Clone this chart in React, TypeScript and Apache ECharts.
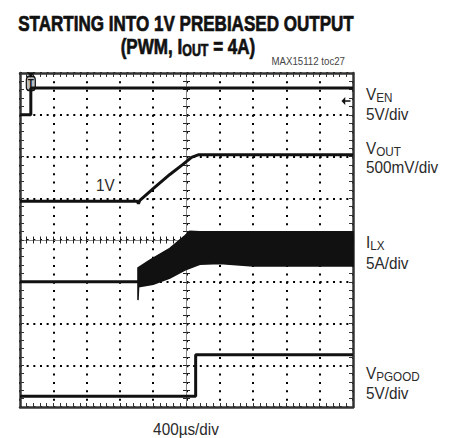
import React, { useEffect, useRef } from "react";
import * as echarts from "echarts";

// ---------- scope settings ----------
const TIME_PER_DIV = 400; // µs per horizontal division
const H_DIVS = 10;
const V_DIVS = 8;
const triggerTime = 130; // µs

// channel scale (units per division) and ground position (divisions from bottom)
const venScale = 5;
const venGround = 7.0;
const voutScale = 0.5;
const voutGround = 2.93;
const ilxScale = 5;
const ilxGround = 3.0;
const pgoodScale = 5;
const pgoodGround = 0.26;

// ---------- data ----------
// VEN (V)
const venTime = [0, 130, 130, 4000];
const venValue = [0, 0, 3.2, 3.2];

// VOUT (V)
const voutTime = [0, 1410, 1422, 1440, 1600, 1800, 1957, 2060, 2140, 4000];
const voutValue = [1.0, 1.0, 0.97, 1.01, 1.15, 1.32, 1.44, 1.525, 1.555, 1.555];

// ILX (A) before switching starts
const ilxIdleTime = [0, 1417];
const ilxIdleValue = [0, 0];
// ILX switching ripple envelope (A)
const ilxUpperTime = [1417, 1560, 1800, 1980, 2040, 2160, 2600, 3200, 4000];
const ilxUpper = [1.65, 2.6, 4.0, 5.5, 6.05, 6.0, 6.0, 6.0, 6.0];
const ilxLowerTime = [1417, 1425, 1600, 1800, 1980, 2160, 2400, 2800, 3400, 4000];
const ilxLower = [-2.2, -0.6, -0.3, 0.45, 1.4, 2.1, 2.2, 1.9, 1.9, 1.9];

// VPGOOD (V)
const pgoodTime = [0, 2110, 2110, 4000];
const pgoodValue = [0, 0, 4.95, 4.95];

// ---------- helpers ----------
const toPoints = (times: number[], vals: number[], ground: number, scale: number) =>
  times.map((t, i) => [t / TIME_PER_DIV, ground + vals[i] / scale]);

const FONT = '"Liberation Sans", Arial, sans-serif';
const INK = "#111";
const FRAME = "#333";
const DOT = 2;

const frameAxis = (position: string, max: number, split: boolean, dotDash: number[]) => ({
  type: "value",
  min: 0,
  max,
  interval: 1,
  position,
  axisLine: { show: true, onZero: false, lineStyle: { color: FRAME, width: 2.5 } },
  axisTick: { show: true, inside: true, length: 4, lineStyle: { color: FRAME, width: 1 } },
  minorTick: { show: true, splitNumber: 5, length: 4, lineStyle: { color: FRAME, width: 1 } },
  axisLabel: { show: false },
  splitLine: {
    show: split,
    lineStyle: { color: "#000", width: DOT, type: dotDash },
  },
  minorSplitLine: { show: false },
});

const centerAxis = (position: string, max: number, offset: number, inside: boolean, showLine: boolean) => ({
  type: "value",
  min: 0,
  max,
  interval: 1,
  position,
  offset,
  axisLine: { show: showLine, onZero: false, lineStyle: { color: "#888", width: 1 } },
  axisTick: { show: true, inside, length: 3.5, lineStyle: { color: "#222", width: 1 } },
  minorTick: { show: true, splitNumber: 5, length: 3.5, lineStyle: { color: "#222", width: 1 } },
  axisLabel: { show: false },
  splitLine: { show: false },
});

const traceLine = (name: string, data: number[][], extra: any = {}) => ({
  name,
  type: "line",
  xAxisIndex: 0,
  yAxisIndex: 0,
  data,
  showSymbol: false,
  symbol: "none",
  silent: true,
  z: 5,
  lineStyle: { color: INK, width: 3 },
  ...extra,
});

const label = (x: number, y: number, text: string, rich?: any, size = 17) => ({
  type: "text",
  x,
  y,
  scaleX: 0.9,
  style: {
    text,
    fontFamily: FONT,
    fontSize: size,
    fill: "#2a2a2a",
    align: "left",
    verticalAlign: "middle",
    ...(rich ? { rich } : {}),
  },
});

const subRich = {
  m: { fontFamily: FONT, fontSize: 17, lineHeight: 20, fill: "#2a2a2a" },
  s: { fontFamily: FONT, fontSize: 13, lineHeight: 13.2, verticalAlign: "bottom", fill: "#2a2a2a" },
};

const TITLE_STROKE = { stroke: INK, lineWidth: 0.7 };

export default function App() {
  const ref = useRef<HTMLDivElement>(null);

  useEffect(() => {
    if (!ref.current) return;
    const chart = echarts.init(ref.current, null, { renderer: "svg" });

    const plotLeft = 20;
    const plotTop = 73;
    const plotW = 333;
    const plotH = 334;

    const option: any = {
      animation: false,
      backgroundColor: "#fff",
      grid: { left: plotLeft, top: plotTop, width: plotW, height: plotH, containLabel: false },
      xAxis: [
        frameAxis("bottom", H_DIVS, true, [DOT, plotH / V_DIVS / 5 - DOT]),
        frameAxis("top", H_DIVS, false, [1]),
        centerAxis("bottom", H_DIVS, -plotH / 2, true, true),
        centerAxis("bottom", H_DIVS, -plotH / 2, false, false),
      ],
      yAxis: [
        frameAxis("left", V_DIVS, true, [DOT, plotW / H_DIVS / 5 - DOT]),
        frameAxis("right", V_DIVS, false, [1]),
        centerAxis("left", V_DIVS, -plotW / 2, true, true),
        centerAxis("left", V_DIVS, -plotW / 2, false, false),
      ],
      series: [
        traceLine("VEN", toPoints(venTime, venValue, venGround, venScale), {
          markPoint: {
            silent: true,
            animation: false,
            data: [
              {
                coord: [triggerTime / TIME_PER_DIV, 7.75],
                symbol: "roundRect",
                symbolSize: [9, 14],
                itemStyle: { color: "#bdbdbd", borderColor: INK, borderWidth: 1.5 },
                label: { show: true, formatter: "T", position: "inside", color: INK, fontSize: 10, fontWeight: "bold", fontFamily: FONT },
              },
              {
                coord: [triggerTime / TIME_PER_DIV, 7.95],
                symbol: "triangle",
                symbolRotate: 180,
                symbolSize: [7, 5],
                itemStyle: { color: INK },
                label: { show: false },
              },
              {
                coord: [H_DIVS, 7.33],
                symbol: "path://M0,5 L5,0 L5,4 L12,4 L12,6 L5,6 L5,10 Z",
                symbolSize: [9, 8],
                symbolOffset: [-7, 0],
                itemStyle: { color: INK },
                label: { show: false },
              },
            ],
          },
        }),
        traceLine("VOUT", toPoints(voutTime, voutValue, voutGround, voutScale)),
        traceLine("ILX", toPoints(ilxIdleTime, ilxIdleValue, ilxGround, ilxScale)),
        {
          name: "ILX ripple",
          type: "custom",
          xAxisIndex: 0,
          yAxisIndex: 0,
          silent: true,
          z: 5,
          data: [[0, 0]],
          renderItem: (params: any, api: any) => {
            if (params.dataIndex !== 0) return null;
            const pts: number[][] = [];
            ilxUpperTime.forEach((t, i) => {
              pts.push(api.coord([t / TIME_PER_DIV, ilxGround + ilxUpper[i] / ilxScale]));
            });
            for (let i = ilxLowerTime.length - 1; i >= 0; i--) {
              pts.push(api.coord([ilxLowerTime[i] / TIME_PER_DIV, ilxGround + ilxLower[i] / ilxScale]));
            }
            return {
              type: "polygon",
              shape: { points: pts },
              style: { fill: INK, stroke: INK, lineWidth: 1.5 },
            };
          },
        },
        traceLine("VPGOOD", toPoints(pgoodTime, pgoodValue, pgoodGround, pgoodScale)),
      ],
      graphic: [
        {
          type: "text",
          x: 186,
          y: 23,
          scaleX: 0.775,
          style: {
            text: "STARTING INTO 1V PREBIASED OUTPUT",
            fontFamily: FONT,
            fontSize: 22,
            fontWeight: "bold",
            fill: INK,
            ...TITLE_STROKE,
            align: "center",
            verticalAlign: "middle",
          },
        },
        {
          type: "text",
          x: 188,
          y: 46,
          scaleX: 0.775,
          style: {
            text: "{a|(PWM, I}{b|OUT}{a| = 4A)}",
            fontFamily: FONT,
            fontSize: 22,
            fontWeight: "bold",
            fill: INK,
            ...TITLE_STROKE,
            align: "center",
            verticalAlign: "middle",
            rich: {
              a: { fontFamily: FONT, fontSize: 22, fontWeight: "bold", lineHeight: 24, fill: INK, ...TITLE_STROKE },
              b: { fontFamily: FONT, fontSize: 16, fontWeight: "bold", lineHeight: 13.8, verticalAlign: "bottom", fill: INK, ...TITLE_STROKE },
            },
          },
        },
        {
          type: "text",
          x: 345,
          y: 61.5,
          scaleX: 0.88,
          style: {
            text: "MAX15112 toc27",
            fontFamily: FONT,
            fontSize: 11,
            fill: "#444",
            align: "right",
            verticalAlign: "middle",
          },
        },
        label(366, 94, "{m|V}{s|EN}", subRich),
        label(366, 114, "5V/div"),
        label(366, 148, "{m|V}{s|OUT}", subRich),
        label(366, 167, "500mV/div"),
        label(366, 242, "{m|I}{s|LX}", subRich),
        label(366, 263, "5A/div"),
        label(366, 373, "{m|V}{s|PGOOD}", subRich),
        label(366, 393, "5V/div"),
        label(96, 184.5, "1V"),
        {
          type: "text",
          x: 186,
          y: 429,
          scaleX: 0.9,
          style: {
            text: "400µs/div",
            fontFamily: FONT,
            fontSize: 17,
            fill: "#2a2a2a",
            align: "center",
            verticalAlign: "middle",
          },
        },
      ],
    };

    chart.setOption(option);
    return () => chart.dispose();
  }, []);

  return (
    <div
      ref={ref}
      style={{ position: "fixed", left: 0, top: 0, width: 449, height: 438, background: "#fff" }}
    />
  );
}
